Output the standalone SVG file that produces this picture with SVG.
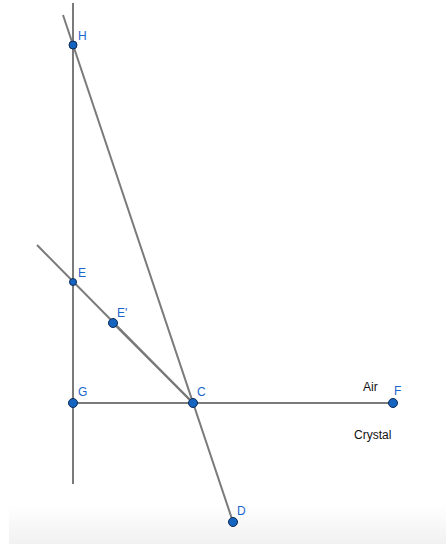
<svg xmlns="http://www.w3.org/2000/svg" width="446" height="544" viewBox="0 0 446 544">
<defs>
<linearGradient id="bg" x1="0" y1="0" x2="0" y2="1">
<stop offset="0" stop-color="#ffffff"/>
<stop offset="1" stop-color="#f1f1f1"/>
</linearGradient>
<style>
.ln{stroke:#7a7a7a;stroke-width:2;fill:none}
.pt{fill:#1565c0;stroke:#0d2a55;stroke-width:1}
.lb{font-family:"Liberation Sans",Arial,sans-serif;font-size:12px;fill:#1a66cc}
.tx{font-family:"Liberation Sans",Arial,sans-serif;font-size:12px;fill:#111}
</style>
</defs>
<rect x="0" y="0" width="446" height="544" fill="#fff"/>
<rect x="9" y="505" width="437" height="39" fill="url(#bg)"/>
<g id="connectors">
<line class="ln" x1="73" y1="3" x2="73" y2="484"/>
<line class="ln" x1="63" y1="15" x2="233" y2="522"/>
<line class="ln" x1="37" y1="245" x2="193" y2="403"/>
<line class="ln" x1="113" y1="323" x2="193" y2="403" stroke-width="2.6"/>
<line class="ln" x1="73" y1="403" x2="393" y2="403"/>
</g>
<g id="H"><circle class="pt" cx="73" cy="45" r="4"/><text class="lb" x="78" y="40">H</text></g>
<g id="E"><circle class="pt" cx="73" cy="282" r="3.5"/><text class="lb" x="78" y="277">E</text></g>
<g id="Ep"><circle class="pt" cx="113" cy="323" r="4.5"/><text class="lb" x="117" y="317">E'</text></g>
<g id="G"><circle class="pt" cx="73" cy="403" r="4.5"/><text class="lb" x="78" y="396">G</text></g>
<g id="C"><circle class="pt" cx="193" cy="403" r="4.5"/><text class="lb" x="197" y="396">C</text></g>
<g id="F"><circle class="pt" cx="393" cy="403" r="4.5"/><text class="lb" x="394" y="395">F</text></g>
<g id="D"><circle class="pt" cx="233" cy="522" r="4.5"/><text class="lb" x="237" y="515">D</text></g>
<g id="labels">
<text class="tx" x="363" y="391">Air</text>
<text class="tx" x="354" y="439">Crystal</text>
</g>
</svg>
